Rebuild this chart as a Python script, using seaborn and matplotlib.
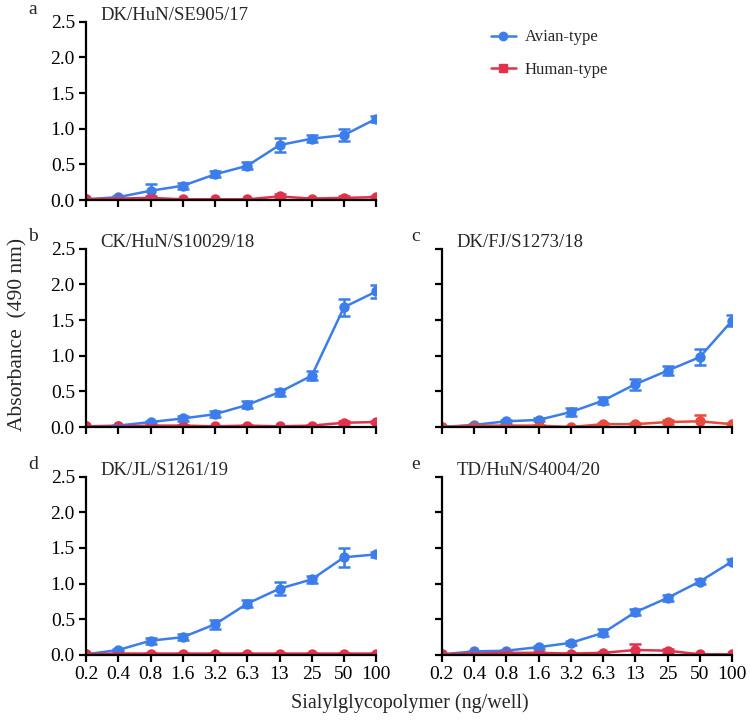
import numpy as np
import pandas as pd
import matplotlib
matplotlib.use("Agg")
import matplotlib.pyplot as plt
import seaborn as sns
from matplotlib.lines import Line2D

concentrations = ["0.2", "0.4", "0.8", "1.6", "3.2", "6.3", "13", "25", "50", "100"]
strains = ["DK/HuN/SE905/17", "CK/HuN/S10029/18", "DK/FJ/S1273/18",
           "DK/JL/S1261/19", "TD/HuN/S4004/20"]
panel_letters = ["a", "b", "c", "d", "e"]

avian_a = [0.01, 0.04, 0.13, 0.20, 0.36, 0.48, 0.77, 0.86, 0.91, 1.14]
human_a = [0.01, 0.02, 0.03, 0.01, 0.01, 0.01, 0.05, 0.02, 0.03, 0.04]
avian_b = [0.01, 0.02, 0.07, 0.12, 0.18, 0.31, 0.49, 0.72, 1.68, 1.90]
human_b = [0.01, 0.01, 0.02, 0.02, 0.01, 0.02, 0.01, 0.02, 0.06, 0.07]
avian_c = [0.00, 0.03, 0.08, 0.10, 0.21, 0.37, 0.60, 0.79, 0.98, 1.49]
human_c = [0.00, 0.02, 0.02, 0.02, 0.00, 0.04, 0.04, 0.07, 0.08, 0.04]
avian_d = [0.01, 0.07, 0.20, 0.25, 0.43, 0.72, 0.93, 1.06, 1.37, 1.41]
human_d = [0.01, 0.02, 0.02, 0.02, 0.02, 0.02, 0.02, 0.02, 0.02, 0.02]
avian_e = [0.01, 0.05, 0.06, 0.11, 0.17, 0.31, 0.60, 0.80, 1.03, 1.31]
human_e = [0.01, 0.02, 0.03, 0.03, 0.02, 0.03, 0.07, 0.06, 0.01, 0.01]

avian_a_sd = [0.01, 0.02, 0.09, 0.04, 0.04, 0.05, 0.10, 0.05, 0.08, 0.04]
human_a_sd = [0.01, 0.01, 0.02, 0.01, 0.01, 0.01, 0.03, 0.01, 0.02, 0.02]
avian_b_sd = [0.01, 0.01, 0.02, 0.03, 0.04, 0.05, 0.05, 0.06, 0.12, 0.09]
human_b_sd = [0.01, 0.01, 0.01, 0.01, 0.01, 0.01, 0.01, 0.01, 0.02, 0.02]
avian_c_sd = [0.01, 0.01, 0.02, 0.02, 0.06, 0.05, 0.08, 0.06, 0.11, 0.08]
human_c_sd = [0.01, 0.01, 0.01, 0.01, 0.01, 0.02, 0.02, 0.03, 0.09, 0.02]
avian_d_sd = [0.01, 0.02, 0.04, 0.04, 0.06, 0.05, 0.09, 0.05, 0.13, 0.04]
human_d_sd = [0.01, 0.01, 0.01, 0.01, 0.01, 0.01, 0.01, 0.01, 0.01, 0.01]
avian_e_sd = [0.01, 0.01, 0.01, 0.02, 0.03, 0.05, 0.04, 0.04, 0.04, 0.04]
human_e_sd = [0.01, 0.01, 0.01, 0.01, 0.01, 0.01, 0.08, 0.03, 0.01, 0.01]

avian_vals = [avian_a, avian_b, avian_c, avian_d, avian_e]
human_vals = [human_a, human_b, human_c, human_d, human_e]
avian_sds = [avian_a_sd, avian_b_sd, avian_c_sd, avian_d_sd, avian_e_sd]
human_sds = [human_a_sd, human_b_sd, human_c_sd, human_d_sd, human_e_sd]

yticks = [0.0, 0.5, 1.0, 1.5, 2.0, 2.5]
ytick_labels = ["0.0", "0.5", "1.0", "1.5", "2.0", "2.5"]

BLUE = "#3B7DEB"
RED = "#E3304C"
RED_C = "#E84B3C"
SERIF = ["Liberation Serif", "DejaVu Serif"]

sns.set_theme(style="ticks")
plt.rcParams["font.family"] = SERIF
plt.rcParams["font.serif"] = SERIF
plt.rcParams["axes.linewidth"] = 1.6
plt.rcParams["xtick.major.width"] = 1.6
plt.rcParams["ytick.major.width"] = 1.6
plt.rcParams["xtick.major.size"] = 5
plt.rcParams["ytick.major.size"] = 5
plt.rcParams["xtick.color"] = "black"
plt.rcParams["ytick.color"] = "black"
plt.rcParams["axes.edgecolor"] = "black"

fig = plt.figure(figsize=(7.5, 7.2), dpi=100)
W = 0.387
H = 0.2477
lefts = [0.1147, 0.1147, 0.589, 0.1147, 0.589]
bottoms = [0.7222, 0.4069, 0.4069, 0.0903, 0.0903]

for i in range(5):
    ax = fig.add_axes([lefts[i], bottoms[i], W, H])
    xpos = np.arange(len(concentrations))
    df = pd.DataFrame({
        "x": np.concatenate([xpos, xpos]),
        "y": avian_vals[i] + human_vals[i],
        "series": ["Avian-type"] * 10 + ["Human-type"] * 10,
    })
    hred = RED_C if i == 2 else RED
    sns.lineplot(data=df, x="x", y="y", hue="series",
                 palette={"Avian-type": BLUE, "Human-type": hred},
                 marker="o", markersize=7.5, markeredgewidth=0,
                 linewidth=1.8, ax=ax, legend=False)
    ax.errorbar(xpos, avian_vals[i], yerr=avian_sds[i], fmt="none",
                ecolor=BLUE, elinewidth=1.8, capsize=4, capthick=1.8)
    ax.errorbar(xpos, human_vals[i], yerr=human_sds[i], fmt="none",
                ecolor=hred, elinewidth=1.8, capsize=4, capthick=1.8)
    ax.set_xlim(0, 9)
    ax.set_ylim(0, 2.5)
    ax.set_xticks(xpos)
    ax.set_yticks(yticks)
    if i in (3, 4):
        ax.set_xticklabels(concentrations, fontsize=14, fontfamily=SERIF)
    else:
        ax.set_xticklabels([])
    if i in (0, 1, 3):
        ax.set_yticklabels(ytick_labels, fontsize=14, fontfamily=SERIF)
    else:
        ax.set_yticklabels([])
    ax.set_xlabel("")
    ax.set_ylabel("")
    ax.tick_params(axis="both", direction="out", pad=3)
    sns.despine(ax=ax)
    ax.text(0.05, 1.035, strains[i], transform=ax.transAxes, fontsize=13.5,
            ha="left", va="center", fontfamily=SERIF)
    lx = -0.105 if i in (2, 4) else -0.2
    ax.text(lx, 1.07, panel_letters[i],
            transform=ax.transAxes, fontsize=14, ha="left", va="center",
            fontfamily=SERIF)

fig.text(0.024, 0.535, "Absorbance  (490 nm)", rotation=90, fontsize=15.5,
         ha="center", va="center", fontfamily=SERIF)
fig.text(0.547, 0.024, "Sialylglycopolymer (ng/well)", fontsize=14.5,
         ha="center", va="center", fontfamily=SERIF)

handles = [Line2D([0], [0], color=BLUE, marker="o", markersize=6, lw=1.8),
           Line2D([0], [0], color=RED, marker="s", markersize=6, lw=1.8)]
fig.legend(handles, ["Avian-type", "Human-type"], loc="upper left",
           bbox_to_anchor=(0.634, 0.98), frameon=False,
           prop={"family": SERIF, "size": 12},
           handlelength=1.5, handletextpad=0.55, labelspacing=1.0)

fig.savefig("out.png", dpi=100)
